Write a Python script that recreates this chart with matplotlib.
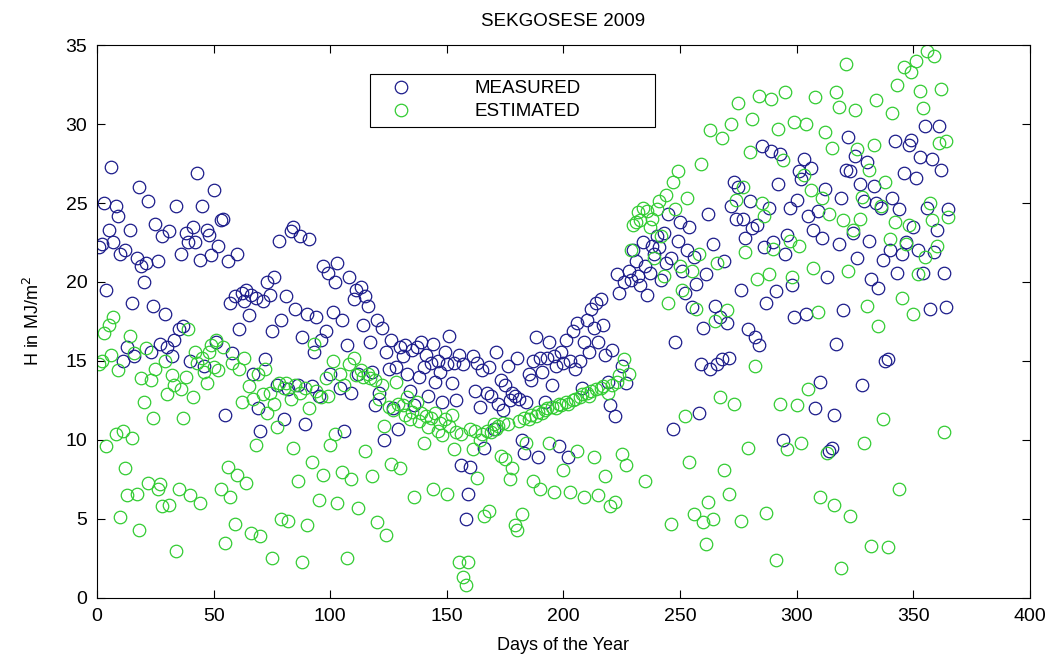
import matplotlib.pyplot as plt

plt.rcParams['font.family'] = ['Liberation Sans', 'DejaVu Sans']

# daily global radiation, MJ/m^2
measured = [
    22.2, 22.4, 25.0, 19.5, 23.3, 27.3, 22.5, 24.8, 24.2, 21.8,
    15.0, 22.0, 15.9, 23.3, 18.7, 15.3, 21.5, 26.0, 21.0, 20.0,
    21.2, 25.1, 15.6, 18.5, 23.7, 21.3, 16.1, 22.9, 18.0, 15.9,
    23.2, 15.3, 16.3, 24.8, 17.0, 21.8, 17.2, 23.1, 22.5, 15.0,
    23.5, 22.5, 26.9, 21.4, 24.8, 14.7, 23.3, 23.0, 21.7, 25.8,
    16.2, 22.3, 23.9, 24.0, 11.6, 21.3, 18.7, 15.5, 19.1, 21.8,
    17.0, 19.3, 18.8, 19.5, 17.9, 19.2, 14.2, 19.0, 12.0, 10.6,
    18.8, 15.1, 20.0, 19.2, 16.9, 20.3, 13.5, 22.6, 17.6, 11.3,
    19.1, 13.2, 23.2, 23.5, 18.3, 13.5, 22.9, 16.5, 11.0, 18.0,
    22.7, 13.4, 15.6, 17.8, 12.8, 16.3, 21.0, 16.9, 20.6, 14.2,
    18.1, 20.0, 21.2, 13.3, 17.6, 10.6, 16.0, 20.3, 13.0, 18.9,
    19.5, 14.2, 19.7, 17.3, 19.1, 18.5, 16.2, 14.3, 12.2, 17.6,
    13.0, 17.1, 10.0, 15.6, 14.5, 16.3, 12.0, 14.6, 10.7, 15.9,
    15.3, 16.0, 14.2, 13.1, 15.7, 12.2, 15.9, 14.0, 16.2, 14.6,
    15.4, 12.8, 14.9, 16.1, 13.7, 15.0, 14.3, 12.4, 15.6, 14.8,
    16.6, 13.6, 14.9, 12.5, 15.4, 8.4, 14.8, 5.0, 6.6, 8.3,
    15.3, 13.1, 14.9, 12.1, 14.4, 9.5, 13.0, 14.6, 12.8, 10.7,
    15.6, 12.3, 13.8, 11.9, 13.5, 14.7, 12.5, 13.0, 12.8, 15.2,
    12.6, 10.0, 9.2, 12.4, 14.2, 13.8, 15.0, 16.5, 8.9, 15.2,
    14.3, 12.4, 15.2, 16.2, 13.5, 15.3, 14.7, 9.6, 15.6, 14.9,
    16.3, 8.9, 15.0, 16.9, 14.5, 17.4, 15.0, 13.3, 16.2, 17.6,
    15.6, 18.3, 17.1, 18.7, 16.2, 18.9, 17.3, 15.4, 13.7, 12.2,
    15.7, 11.5, 20.5, 19.3, 14.7, 20.0, 13.6, 20.7, 20.1, 22.0,
    21.3, 20.4, 19.8, 22.5, 21.0, 19.2, 20.6, 22.3, 21.8, 22.9,
    22.2, 20.1, 23.1, 21.2, 24.3, 21.5, 10.7, 16.2, 22.6, 23.8,
    20.7, 19.3, 22.0, 23.5, 18.4, 21.6, 19.9, 11.7, 14.8, 17.1,
    20.5, 24.3, 14.5, 22.4, 18.5, 14.8, 17.8, 15.1, 21.3, 17.4,
    15.2, 24.8, 26.3, 24.0, 26.0, 19.5, 24.0, 22.8, 17.0, 25.1,
    23.4, 16.5, 23.6, 16.0, 28.6, 22.2, 18.7, 24.7, 28.3, 22.5,
    19.4, 26.2, 28.1, 10.0, 21.8, 23.0, 24.7, 19.8, 17.8, 25.2,
    27.0, 26.5, 27.8, 18.0, 24.2, 27.2, 23.3, 12.0, 24.5, 13.7,
    22.8, 25.9, 20.3, 9.3, 9.5, 11.6, 16.1, 22.4, 25.3, 18.2,
    27.1, 29.2, 27.0, 23.1, 28.0, 21.5, 26.2, 13.5, 25.1, 27.6,
    22.6, 20.2, 26.1, 25.0, 19.6, 24.7, 21.4, 15.0, 15.1, 22.0,
    25.3, 28.9, 20.6, 24.6, 21.8, 26.9, 22.5, 28.7, 29.0, 23.5,
    26.6, 22.0, 27.9, 20.6, 29.9, 24.7, 18.3, 27.8, 21.9, 23.3,
    29.9, 27.1, 20.6, 18.4, 24.6,
]

estimated = [
    14.8, 15.0, 16.8, 9.6, 17.3, 15.4, 17.8, 10.4, 14.4, 5.1,
    10.6, 8.2, 6.5, 16.6, 10.1, 15.5, 6.6, 4.3, 13.9, 12.4,
    15.8, 7.3, 13.8, 11.4, 14.5, 6.9, 7.2, 5.8, 15.0, 12.9,
    5.9, 14.1, 13.5, 3.0, 6.9, 13.2, 11.4, 14.0, 17.0, 6.5,
    12.7, 15.6, 14.9, 6.0, 15.2, 14.3, 13.6, 15.6, 16.0, 14.6,
    16.3, 14.4, 6.9, 15.9, 3.5, 8.3, 6.4, 14.9, 4.7, 7.8,
    14.5, 12.4, 15.2, 7.3, 13.4, 4.1, 12.6, 9.7, 14.2, 3.9,
    12.9, 14.5, 11.7, 13.0, 2.5, 12.3, 10.8, 13.6, 5.0, 13.3,
    13.6, 4.9, 12.6, 9.5, 13.5, 7.4, 13.0, 2.3, 13.3, 4.6,
    12.0, 8.6, 16.1, 13.1, 6.2, 12.7, 7.8, 13.9, 12.8, 9.7,
    15.0, 10.4, 6.0, 14.2, 8.0, 13.5, 2.5, 14.8, 7.5, 15.2,
    14.1, 5.7, 14.4, 14.0, 9.3, 14.2, 13.9, 7.7, 13.8, 4.8,
    12.6, 13.5, 10.9, 4.0, 12.1, 8.5, 11.9, 13.7, 12.3, 8.2,
    12.2, 11.6, 12.7, 11.3, 11.8, 6.4, 12.4, 11.2, 11.7, 9.8,
    11.5, 10.8, 11.4, 6.9, 11.7, 10.6, 11.1, 10.3, 11.3, 6.6,
    10.9, 11.6, 9.4, 10.5, 2.3, 10.4, 1.3, 0.8, 2.3, 10.7,
    9.4, 10.6, 7.6, 10.0, 10.4, 5.2, 10.6, 5.5, 10.5, 11.0,
    10.7, 10.9, 9.0, 11.1, 8.8, 11.0, 7.5, 8.2, 4.6, 4.3,
    11.2, 5.3, 11.4, 9.8, 11.3, 11.6, 7.4, 11.5, 11.8, 6.9,
    11.7, 11.9, 12.0, 9.8, 12.1, 6.7, 12.0, 12.3, 12.2, 8.1,
    12.4, 12.3, 6.7, 12.5, 12.6, 9.3, 12.7, 12.9, 6.4, 13.0,
    12.8, 13.1, 8.9, 13.2, 6.5, 13.3, 13.4, 7.7, 13.0, 5.8,
    13.5, 6.1, 13.7, 14.1, 9.1, 15.1, 8.4, 14.2, 22.0, 23.6,
    23.8, 24.4, 23.9, 24.7, 7.4, 24.5, 23.5, 24.0, 21.5, 24.6,
    25.1, 22.9, 20.4, 25.5, 18.7, 4.7, 26.3, 24.6, 27.0, 21.0,
    19.5, 11.5, 25.3, 8.6, 20.7, 5.3, 18.3, 21.8, 27.5, 4.8,
    3.4, 6.1, 29.6, 5.0, 17.5, 21.2, 12.7, 29.1, 8.1, 18.2,
    6.6, 30.0, 12.3, 25.2, 31.3, 4.9, 26.0, 21.9, 9.5, 28.2,
    30.3, 14.7, 20.2, 31.8, 25.0, 24.2, 5.4, 20.5, 31.6, 22.1,
    2.4, 29.7, 12.3, 27.7, 32.0, 9.4, 22.6, 20.3, 30.1, 12.2,
    22.3, 9.8, 26.8, 30.0, 13.2, 25.8, 20.9, 31.7, 18.1, 6.4,
    25.3, 29.5, 9.2, 24.3, 28.5, 5.9, 32.0, 31.1, 1.9, 23.9,
    33.8, 20.7, 5.2, 23.3, 30.9, 28.4, 24.0, 25.4, 9.8, 18.5,
    27.1, 3.3, 28.7, 31.5, 17.2, 24.8, 11.3, 26.3, 3.2, 22.7,
    30.7, 23.8, 32.5, 6.9, 19.0, 33.6, 22.4, 23.6, 33.3, 18.0,
    34.0, 20.5, 32.1, 31.0, 21.6, 34.6, 25.0, 23.9, 34.3, 22.3,
    28.8, 32.2, 10.5, 28.9, 24.1,
]

days = list(range(1, len(measured) + 1))

fig = plt.figure(figsize=(10.58, 6.59), dpi=100)
ax = fig.add_axes([0.0917, 0.0926, 0.8818, 0.8391])

ax.plot(days, measured, 'o', mfc='none', mec='#1c1c8a', ms=9, mew=0.9, label='MEASURED')
ax.plot(days, estimated, 'o', mfc='none', mec='#33cc33', ms=9, mew=0.9, label='ESTIMATED')

ax.set_xlim(0, 400)
ax.set_ylim(0, 35)
ax.set_xticks(range(0, 401, 50))
ax.set_yticks(range(0, 36, 5))
ax.tick_params(direction='in', top=True, right=True, length=6, labelsize=14, pad=7)

ax.set_title('SEKGOSESE 2009', fontsize=13.5, pad=14)
ax.set_xlabel('Days of the Year', fontsize=13, labelpad=9)
ax.set_ylabel('H in MJ/m$^2$', fontsize=13, labelpad=16)

leg = ax.legend(loc='upper left', bbox_to_anchor=(0.293, 0.855, 0.305, 0.093), mode='expand',
                fontsize=13.5, frameon=True, fancybox=False, edgecolor='black', framealpha=1,
                handletextpad=2.6, borderpad=0.35, labelspacing=0.3, handlelength=2.6,
                borderaxespad=0)
leg.get_frame().set_linewidth(0.8)

fig.savefig('out.png', dpi=100)
